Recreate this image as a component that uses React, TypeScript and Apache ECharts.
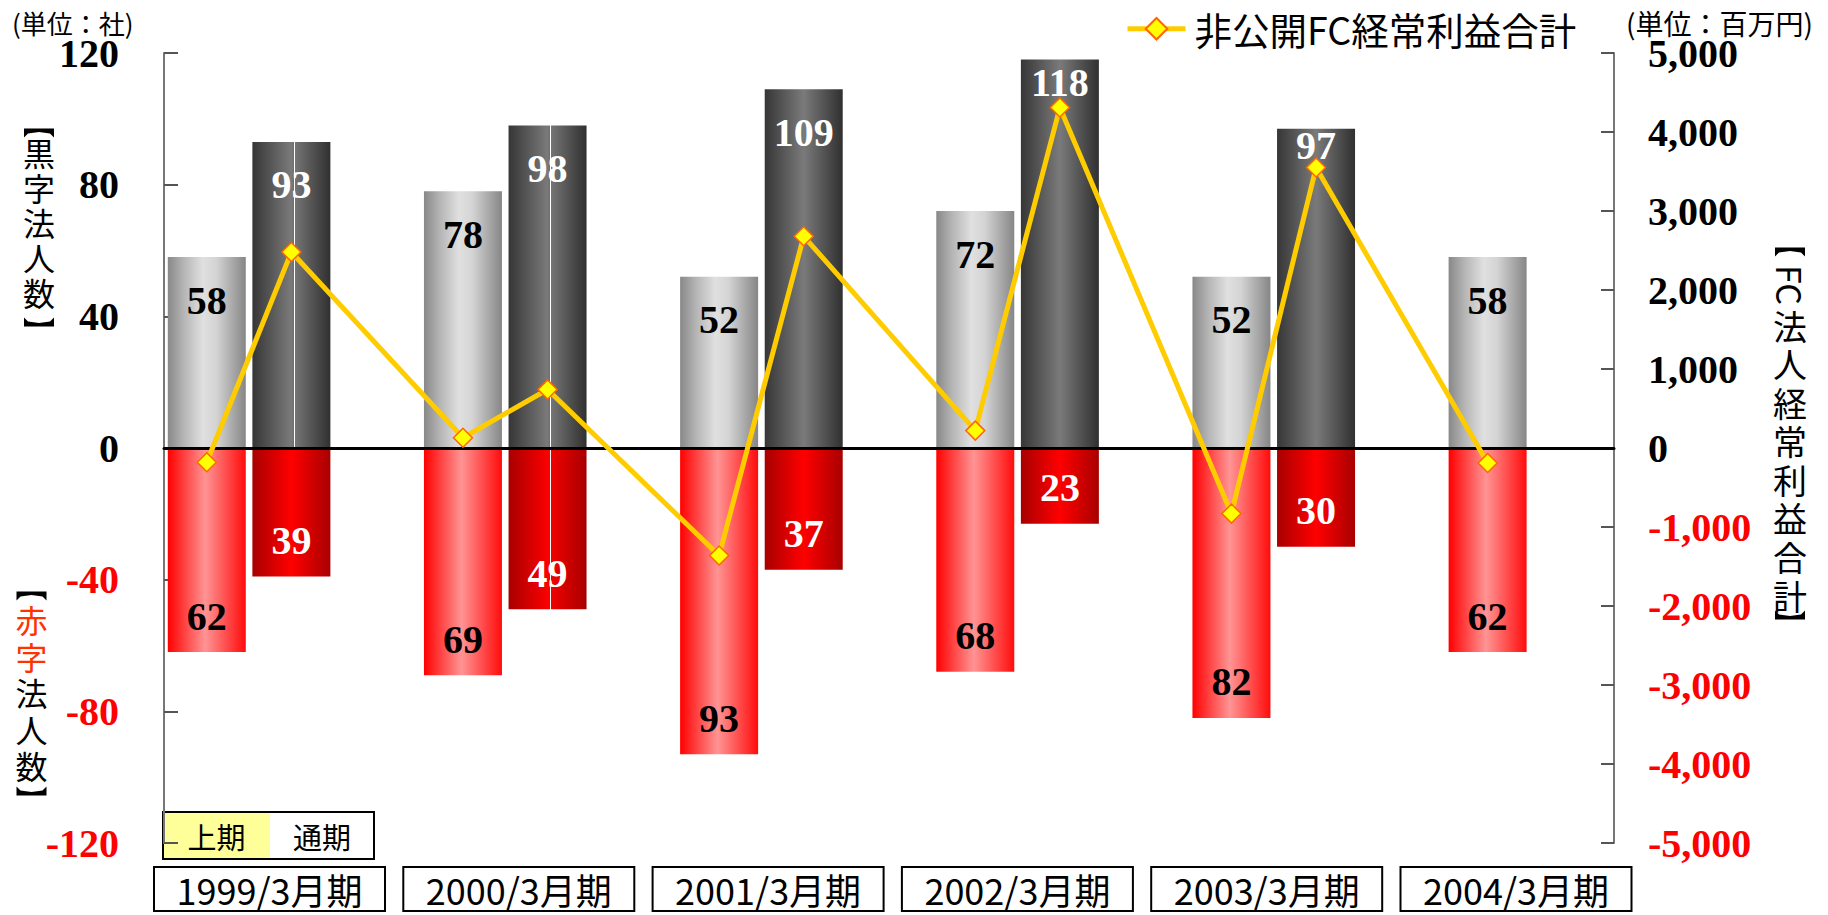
import React, { useEffect, useRef } from 'react';
import * as echarts from 'echarts';

// ---- data ----
const categories = ['1999/3月期', '2000/3月期', '2001/3月期', '2002/3月期', '2003/3月期', '2004/3月期'];
const periodLabels = ['上期', '通期'];
const h1Profit = [58, 78, 52, 72, 52, 58];
const h1Loss = [-62, -69, -93, -68, -82, -62];
const fullProfit: (number | null)[] = [93, 98, 109, 118, 97, null];
const fullLoss: (number | null)[] = [-39, -49, -37, -23, -30, null];
const h1Earnings: (number | null)[] = [-180, 130, -1360, 220, -830, -190];
const fullEarnings: (number | null)[] = [2480, 740, 2680, 4310, 3550, null];
const lineName = '非公開FC経常利益合計';
const countAxis = { min: -120, max: 120, interval: 40 };
const moneyAxis = { min: -5000, max: 5000, interval: 1000 };
const leftNameTop = ['黒', '字', '法', '人', '数'];
const leftNameBottomRed = ['赤', '字'];
const leftNameBottomBlack = ['法', '人', '数'];
const rightNameLatin = 'FC';
const rightNameCjk = ['法', '人', '経', '常', '利', '益', '合', '計'];

// ---- layout ----
const W = 1828;
const H = 915;
const PLOT_TOP = 53;
const PLOT_BOTTOM = 843;
const BAR_LEFT = 121;
const BAR_RIGHT = 1658;
const AXIS_LEFT = 164;
const AXIS_RIGHT = 1614;
const BAR_W = 78;
const BAR_GAP = 6.6;
const BOX_LEFT = 144.85;
const BOX_PITCH = 249.3;

const SERIF = 'Liberation Serif';
const SANS = 'Noto Sans CJK JP';

const grad = (stops: [number, string][]) => ({
  type: 'linear',
  x: 0,
  y: 0,
  x2: 1,
  y2: 0,
  colorStops: stops.map(([offset, color]) => ({ offset, color })),
});
const withStripe = (stops: [number, string][], at: number): [number, string][] => {
  const before = stops.filter((s) => s[0] < at);
  const after = stops.filter((s) => s[0] > at + 0.02);
  return [...before, [at, '#6e6e6e'], [at, '#ffffff'], [at + 0.02, '#ffffff'], [at + 0.02, '#747474'], ...after];
};
const h1ProfitStops: [number, string][] = [[0, '#888888'], [0.2, '#b4b4b4'], [0.45, '#e0e0e0'], [0.62, '#d4d4d4'], [1, '#868686']];
const fullProfitStops: [number, string][] = [[0, '#363636'], [0.5, '#7a7a7a'], [1, '#303030']];
const h1LossStops: [number, string][] = [[0, '#ff0000'], [0.48, '#ff9494'], [1, '#ff0c0c']];
const fullLossStops: [number, string][] = [[0, '#a80000'], [0.5, '#ff0000'], [1, '#a80000']];
const fullLossStriped: [number, string][] = [[0, '#a80000'], [0.53, '#ff0000'], [0.53, '#ffffff'], [0.55, '#ffffff'], [0.55, '#f00000'], [1, '#a80000']];

const stripedProfit = [0, 1];
const stripedLoss = [1];
const labelDistanceOverride: Record<number, number> = { 3: 3, 4: -3 };

const labelBase = {
  show: true,
  fontFamily: SERIF,
  fontWeight: 'bold',
  fontSize: 40,
  formatter: (p: any) => String(Math.abs(p.value)),
};

function buildOption() {
  const band = (BAR_RIGHT - BAR_LEFT) / categories.length;
  const off = (BAR_W + BAR_GAP) / 2 / band;
  const linePoints: [number, number][] = [];
  categories.forEach((_, i) => {
    if (h1Earnings[i] != null) linePoints.push([i + 0.5 - off, h1Earnings[i] as number]);
    if (fullEarnings[i] != null) linePoints.push([i + 0.5 + off, fullEarnings[i] as number]);
  });

  const barCommon = {
    type: 'bar',
    xAxisIndex: 0,
    yAxisIndex: 0,
    barWidth: BAR_W,
    barGap: (BAR_GAP / BAR_W) * 100 + '%',
    z: 2,
  };

  const vText = (chars: string[], x: number, cy: number, pitch: number, size: number, fill: string) => ({
    type: 'text',
    x,
    y: cy - pitch / 2,
    style: {
      text: chars.join('\n'),
      fill,
      fontSize: size,
      fontFamily: SANS,
      lineHeight: pitch,
      textAlign: 'center',
      textVerticalAlign: 'top',
    },
  });
  // vertical lenticular bracket (︻ when dir = 1, ︼ when dir = -1)
  const bracket = (cx: number, cy: number, w: number, h: number, dir: number) => {
    const a = cy - (dir * h) / 2;
    const b = cy + (dir * h) / 2;
    const m = cy + (dir * h) * 0.05;
    return {
      type: 'polygon',
      shape: {
        points: [
          [cx - w / 2, a],
          [cx + w / 2, a],
          [cx + w / 2, b],
          [cx + w / 2 - 4, m],
          [cx, m - dir * 1.5],
          [cx - w / 2 + 4, m],
          [cx - w / 2, b],
        ],
      },
      style: { fill: '#000' },
    };
  };

  return {
    animation: false,
    textStyle: { fontFamily: SANS },
    legend: {
      data: [lineName],
      left: 1125,
      top: 10,
      padding: 0,
      itemWidth: 58,
      itemHeight: 27,
      itemGap: 0,
      lineStyle: { width: 5, color: '#ffcc00' },
      textStyle: { fontSize: 37.5, color: '#000', fontFamily: SANS, padding: [0, 0, 0, 4] },
    },
    grid: [
      { left: BAR_LEFT, right: W - BAR_RIGHT, top: PLOT_TOP, bottom: H - PLOT_BOTTOM },
      { left: AXIS_LEFT, right: W - AXIS_RIGHT, top: PLOT_TOP, bottom: H - PLOT_BOTTOM },
      { left: BOX_LEFT, right: W - (BOX_LEFT + BOX_PITCH * categories.length), top: PLOT_TOP, bottom: 55 },
    ],
    xAxis: [
      { type: 'category', gridIndex: 0, data: categories, show: false },
      { type: 'value', gridIndex: 0, min: 0, max: categories.length, show: false },
      {
        type: 'value',
        gridIndex: 1,
        min: 0,
        max: 1,
        z: 3,
        axisLine: { show: true, onZero: true, lineStyle: { color: '#000', width: 3 } },
        axisTick: { show: false },
        axisLabel: { show: false },
        splitLine: { show: false },
      },
      {
        type: 'category',
        gridIndex: 2,
        data: categories,
        axisLine: { show: false },
        axisTick: { show: false },
        splitLine: { show: false },
        axisLabel: {
          interval: 0,
          margin: 7,
          width: 231,
          height: 44,
          lineHeight: 44,
          align: 'center',
          verticalAlign: 'top',
          borderColor: '#000',
          borderWidth: 2,
          fontSize: 36,
          fontFamily: SANS,
          color: '#000',
        },
      },
    ],
    yAxis: [
      { type: 'value', gridIndex: 0, ...countAxis, show: false },
      { type: 'value', gridIndex: 0, ...moneyAxis, show: false },
      {
        type: 'value',
        gridIndex: 1,
        position: 'left',
        ...countAxis,
        axisLine: { show: true, lineStyle: { color: '#777', width: 2 } },
        axisTick: { show: true, inside: true, length: 14, lineStyle: { color: '#555', width: 2 } },
        splitLine: { show: false },
        axisLabel: {
          margin: 45,
          fontFamily: SERIF,
          fontWeight: 'bold',
          fontSize: 40,
          color: (v: any) => (Number(v) < 0 ? '#ff0000' : '#000000'),
        },
      },
      {
        type: 'value',
        gridIndex: 1,
        position: 'right',
        ...moneyAxis,
        axisLine: { show: true, lineStyle: { color: '#777', width: 2 } },
        axisTick: { show: true, inside: true, length: 13, lineStyle: { color: '#555', width: 2 } },
        splitLine: { show: false },
        axisLabel: {
          margin: 34,
          fontFamily: SERIF,
          fontWeight: 'bold',
          fontSize: 40,
          formatter: (v: number) => v.toLocaleString('en-US'),
          color: (v: any) => (Number(v) < 0 ? '#ff0000' : '#000000'),
        },
      },
      { type: 'value', gridIndex: 2, show: false },
    ],
    series: [
      {
        ...barCommon,
        name: periodLabels[0] + '黒字',
        stack: 'h1',
        data: h1Profit,
        itemStyle: { color: grad(h1ProfitStops) },
        label: { ...labelBase, position: 'insideTop', distance: 23, color: '#000' },
      },
      {
        ...barCommon,
        name: periodLabels[0] + '赤字',
        stack: 'h1',
        data: h1Loss,
        itemStyle: { color: grad(h1LossStops) },
        label: { ...labelBase, position: 'insideBottom', distance: 16, color: '#000' },
      },
      {
        ...barCommon,
        name: periodLabels[1] + '黒字',
        stack: 'full',
        data: fullProfit.map((v, i) => ({
          value: v,
          itemStyle: stripedProfit.includes(i) ? { color: grad(withStripe(fullProfitStops, 0.53)) } : undefined,
          label: labelDistanceOverride[i] != null ? { distance: labelDistanceOverride[i] } : undefined,
        })),
        itemStyle: { color: grad(fullProfitStops) },
        label: { ...labelBase, position: 'insideTop', distance: 23, color: '#fff' },
      },
      {
        ...barCommon,
        name: periodLabels[1] + '赤字',
        stack: 'full',
        data: fullLoss.map((v, i) => ({
          value: v,
          itemStyle: stripedLoss.includes(i) ? { color: grad(fullLossStriped) } : undefined,
        })),
        itemStyle: { color: grad(fullLossStops) },
        label: { ...labelBase, position: 'insideBottom', distance: 16, color: '#fff' },
      },
      {
        type: 'line',
        name: lineName,
        xAxisIndex: 1,
        yAxisIndex: 1,
        data: linePoints,
        symbol: 'diamond',
        symbolSize: 19,
        z: 5,
        lineStyle: { color: '#ffcc00', width: 5 },
        itemStyle: { color: '#ffff00', borderColor: '#ff6600', borderWidth: 1.5 },
      },
    ],
    graphic: [
      { type: 'text', x: 12, y: 9, style: { text: '(単位：社)', fill: '#000', fontSize: 26, fontFamily: SANS, textAlign: 'left', textVerticalAlign: 'top' } },
      { type: 'text', x: 1813, y: 9, style: { text: '(単位：百万円)', fill: '#000', fontSize: 28, fontFamily: SANS, textAlign: 'right', textVerticalAlign: 'top' } },
      // left names
      bracket(39, 133, 30, 9, 1),
      vText(leftNameTop, 39, 152, 35, 32, '#000'),
      bracket(39, 322, 30, 9, -1),
      bracket(31.5, 596, 30, 9, 1),
      vText(leftNameBottomRed, 31.5, 619, 36.6, 32, '#ff3300'),
      vText(leftNameBottomBlack, 31.5, 619 + 2 * 36.6, 36.6, 32, '#000'),
      bracket(31.5, 791, 30, 9, -1),
      // right name
      bracket(1790, 252, 30, 9, 1),
      {
        type: 'text',
        x: 1790,
        y: 285,
        rotation: -Math.PI / 2,
        style: { text: rightNameLatin, fill: '#000', fontSize: 34, fontFamily: SANS, textAlign: 'center', textVerticalAlign: 'middle' },
      },
      vText(rightNameCjk, 1790, 325, 38.6, 34, '#000'),
      bracket(1790, 615, 30, 9, -1),
      // period box
      { type: 'rect', shape: { x: 163, y: 812, width: 211, height: 47 }, style: { fill: '#fff', stroke: '#000', lineWidth: 2 } },
      { type: 'rect', shape: { x: 164, y: 813, width: 106, height: 45 }, style: { fill: '#ffff99' } },
      { type: 'text', x: 216.5, y: 836, style: { text: periodLabels[0], fill: '#000', fontSize: 29, fontFamily: SANS, textAlign: 'center', textVerticalAlign: 'middle' } },
      { type: 'text', x: 322, y: 836, style: { text: periodLabels[1], fill: '#000', fontSize: 29, fontFamily: SANS, textAlign: 'center', textVerticalAlign: 'middle' } },
    ],
  };
}

export default function App() {
  const ref = useRef<HTMLDivElement>(null);
  useEffect(() => {
    document.body.style.margin = '0';
    const chart = echarts.init(ref.current!, null, { renderer: 'svg' });
    chart.setOption(buildOption() as any);
    return () => chart.dispose();
  }, []);
  return <div ref={ref} style={{ width: W, height: H, position: 'absolute', left: 0, top: 0 }} />;
}
